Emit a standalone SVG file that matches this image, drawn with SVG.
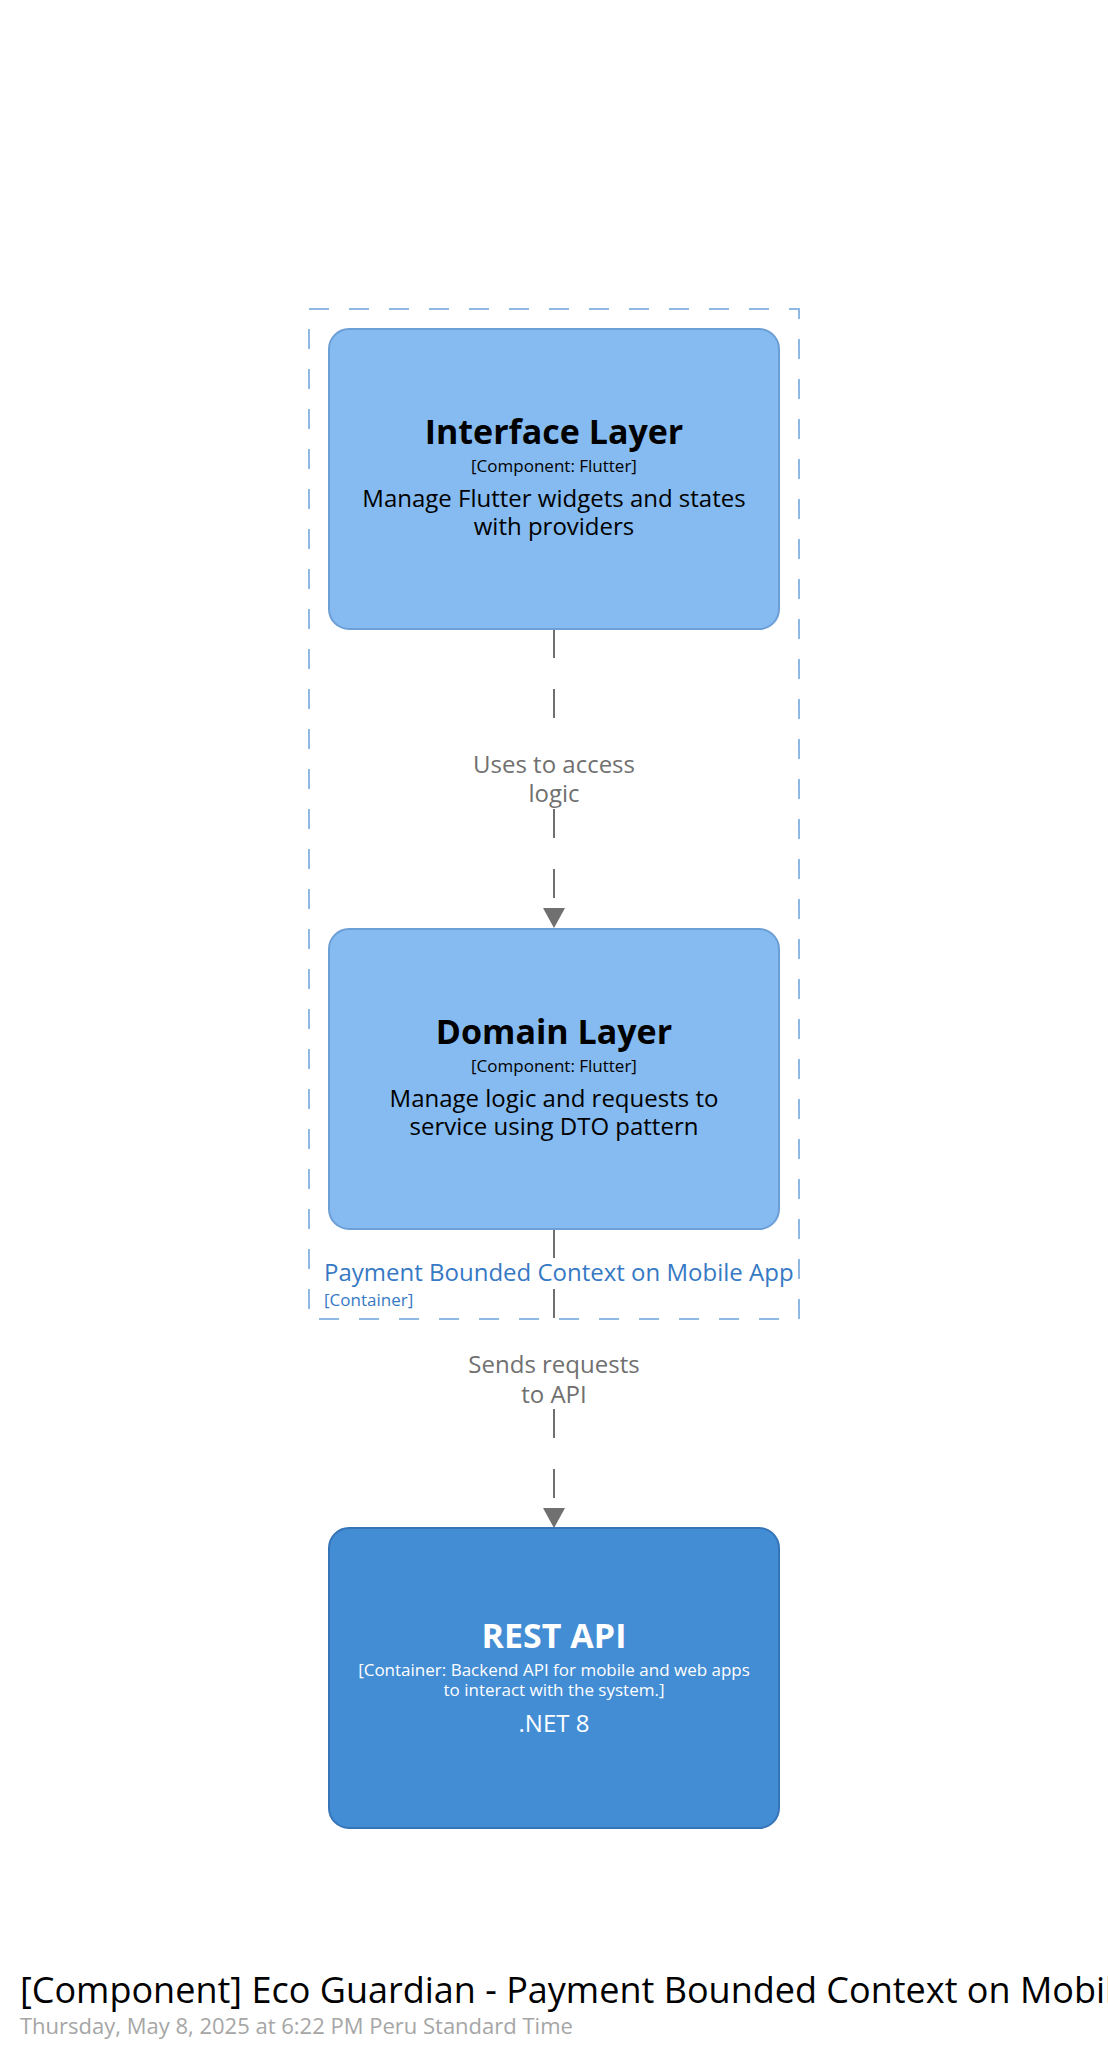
<svg xmlns="http://www.w3.org/2000/svg" width="1108" height="2054" viewBox="0 0 1108 2054">
  <style>
    text { font-family: "Open Sans", "Noto Sans", "DejaVu Sans", sans-serif; text-anchor: middle; }
    .component { fill: #85bbf0; stroke: #6c9fd6; stroke-width: 2; }
    .container { fill: #438dd5; stroke: #3674b8; stroke-width: 2; }
    .name { font-size: 34px; font-weight: bold; fill: #000000; }
    .tech { font-size: 17px; fill: #000000; }
    .desc { font-size: 24px; fill: #000000; }
    .light { fill: #ffffff; }
    .edge { stroke: #707070; stroke-width: 2; stroke-dasharray: 29 31; fill: none; }
    .edge-label { font-size: 24px; fill: #707070; }
    .boundary { fill: none; stroke: #8fb9e4; stroke-width: 2; stroke-dasharray: 20 20; }
    .boundary-name { font-size: 24px; fill: #3679c4; text-anchor: start; }
    .boundary-type { font-size: 17px; fill: #3679c4; text-anchor: start; }
  </style>

  <rect width="1108" height="2054" fill="#ffffff"/>

  <!-- container boundary -->
  <g id="boundary-payment-mobile">
    <rect class="boundary" x="309" y="309" width="490" height="1010"/>
    <text class="boundary-name" x="324" y="1281">Payment Bounded Context on Mobile App</text>
    <text class="boundary-type" x="324" y="1306">[Container]</text>
  </g>

  <!-- connectors -->
  <g id="connectors">
    <g id="edge-interface-domain">
      <line class="edge" x1="554" y1="629" x2="554" y2="908"/>
      <polygon points="543,908 565,908 554,928" fill="#707070"/>
      <rect x="462" y="748" width="184" height="61" fill="#ffffff"/>
      <text class="edge-label" x="554" y="773">Uses to access</text>
      <text class="edge-label" x="554" y="802">logic</text>
    </g>
    <g id="edge-domain-api">
      <line class="edge" x1="554" y1="1229" x2="554" y2="1508"/>
      <polygon points="543,1508 565,1508 554,1528" fill="#707070"/>
      <rect x="462" y="1348" width="184" height="61" fill="#ffffff"/>
      <text class="edge-label" x="554" y="1373">Sends requests</text>
      <text class="edge-label" x="554" y="1403">to API</text>
    </g>
  </g>

  <!-- nodes -->
  <g id="node-interface-layer">
    <rect class="component" x="329" y="329" width="450" height="300" rx="20" ry="20"/>
    <text class="name" x="554" y="444">Interface Layer</text>
    <text class="tech" x="554" y="472">[Component: Flutter]</text>
    <text class="desc" x="554" y="507">Manage Flutter widgets and states</text>
    <text class="desc" x="554" y="535">with providers</text>
  </g>

  <g id="node-domain-layer">
    <rect class="component" x="329" y="929" width="450" height="300" rx="20" ry="20"/>
    <text class="name" x="554" y="1044">Domain Layer</text>
    <text class="tech" x="554" y="1072">[Component: Flutter]</text>
    <text class="desc" x="554" y="1107">Manage logic and requests to</text>
    <text class="desc" x="554" y="1135">service using DTO pattern</text>
  </g>

  <g id="node-rest-api">
    <rect class="container" x="329" y="1528" width="450" height="300" rx="20" ry="20"/>
    <text class="name light" x="554" y="1648">REST API</text>
    <text class="tech light" x="554" y="1676">[Container: Backend API for mobile and web apps</text>
    <text class="tech light" x="554" y="1696">to interact with the system.]</text>
    <text class="desc light" x="554" y="1732">.NET 8</text>
  </g>

  <!-- diagram title (runs past the right edge of the page) -->
  <g id="diagram-title">
    <text x="20" y="2003" style="font-size:36px; fill:#000000; text-anchor:start;">[Component] Eco Guardian - Payment Bounded Context on Mobile App</text>
    <text x="20" y="2034" style="font-size:22px; fill:#a6a6a6; text-anchor:start;">Thursday, May 8, 2025 at 6:22 PM Peru Standard Time</text>
  </g>
</svg>
